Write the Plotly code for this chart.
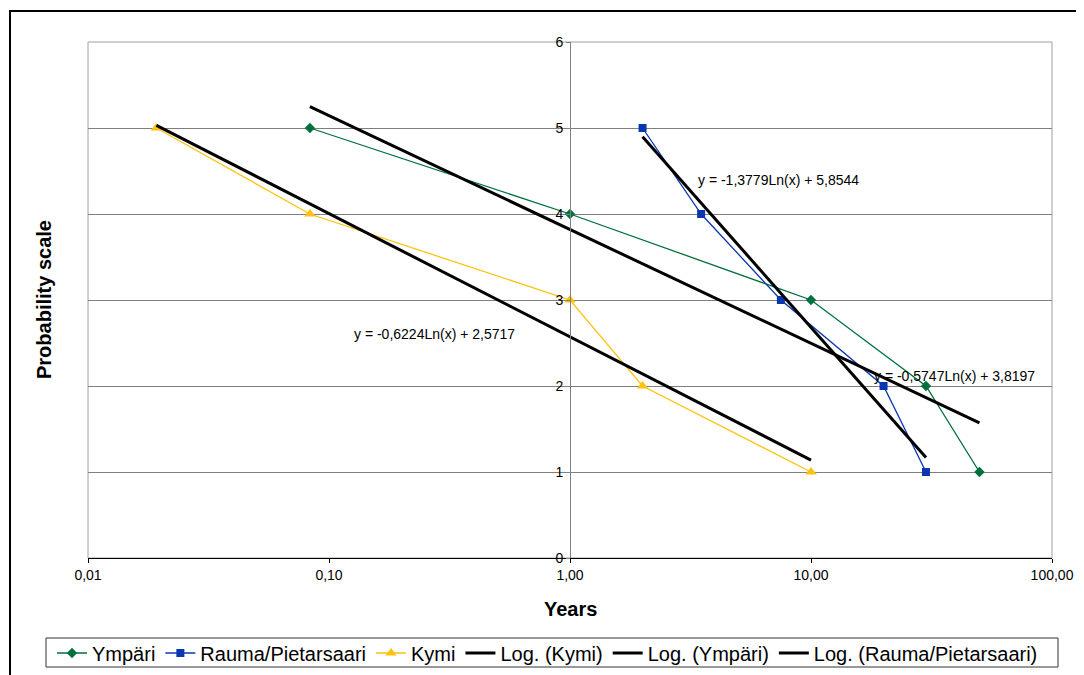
import numpy as np
import plotly.graph_objects as go

# ---------------- data ----------------
ympari_x = [1/12, 1, 10, 30, 50]
ympari_y = [5, 4, 3, 2, 1]

rauma_x = [2, 3.5, 7.5, 20, 30]
rauma_y = [5, 4, 3, 2, 1]

kymi_x = [1/52, 1/12, 1, 2, 10]
kymi_y = [5, 4, 3, 2, 1]

# logarithmic trendline coefficients (y = a*Ln(x) + b), as printed in the chart
kymi_fit = [-0.6224, 2.5717]
ympari_fit = [-0.5747, 3.8197]
rauma_fit = [-1.3779, 5.8544]

kymi_eq = "y = -0,6224Ln(x) + 2,5717"
ympari_eq = "y = -0,5747Ln(x) + 3,8197"
rauma_eq = "y = -1,3779Ln(x) + 5,8544"

x_tickvals = [0.01, 0.1, 1, 10, 100]
x_ticktext = ["0,01", "0,10", "1,00", "10,00", "100,00"]
y_tickvals = [0, 1, 2, 3, 4, 5, 6]

GREEN = "#00703C"
BLUE = "#0A37B0"
YELLOW = "#FFC20E"
FONT = "Liberation Sans, Arial, sans-serif"


def trend(xs, coef):
    xe = np.array([min(xs), max(xs)])
    return xe, coef[0] * np.log(xe) + coef[1]


fig = go.Figure()

fig.add_trace(go.Scatter(x=ympari_x, y=ympari_y, name="Ympäri", mode="lines+markers",
                         line=dict(color=GREEN, width=1.3),
                         marker=dict(symbol="diamond", size=8, color=GREEN)))
fig.add_trace(go.Scatter(x=rauma_x, y=rauma_y, name="Rauma/Pietarsaari", mode="lines+markers",
                         line=dict(color=BLUE, width=1.3),
                         marker=dict(symbol="square", size=8, color=BLUE)))
fig.add_trace(go.Scatter(x=kymi_x, y=kymi_y, name="Kymi", mode="lines+markers",
                         line=dict(color=YELLOW, width=1.3),
                         marker=dict(symbol="triangle-up", size=10, color=YELLOW)))

for name, xs, coef in [("Log. (Kymi)", kymi_x, kymi_fit),
                       ("Log. (Ympäri)", ympari_x, ympari_fit),
                       ("Log. (Rauma/Pietarsaari)", rauma_x, rauma_fit)]:
    tx, ty = trend(xs, coef)
    fig.add_trace(go.Scatter(x=tx, y=ty, name=name, mode="lines",
                             line=dict(color="black", width=3)))

# page body has an 8px margin: work in figure pixels = screen pixels - 8
OFF = 8
W, H = 1084 - OFF, 675 - OFF
L, R, T, B = 88 - OFF, 1052 - OFF, 42 - OFF, 558 - OFF


def px_x(p):  # screen px -> paper
    return (p - OFF - L) / (R - L)


def px_y(p):
    return (B - (p - OFF)) / (B - T)


eq_font = dict(size=14, color="black", family=FONT)
annotations = [
    dict(text=rauma_eq, x=0.523, y=4.395, xref="x", yref="y", xanchor="left",
         yanchor="middle", showarrow=False, font=eq_font),
    dict(text=kymi_eq, x=-0.905, y=2.605, xref="x", yref="y", xanchor="left",
         yanchor="middle", showarrow=False, font=eq_font),
    dict(text=ympari_eq, x=1.253, y=2.116, xref="x", yref="y", xanchor="left",
         yanchor="middle", showarrow=False, font=eq_font),
    dict(text="<b>Probability scale</b>", x=px_x(44), y=px_y(300), xref="paper", yref="paper",
         textangle=-90, showarrow=False, xanchor="center", yanchor="middle",
         font=dict(size=20, color="black", family=FONT)),
    dict(text="<b>Years</b>", x=px_x(570), y=px_y(609), xref="paper", yref="paper",
         showarrow=False, xanchor="center", yanchor="middle",
         font=dict(size=20, color="black", family=FONT)),
]

shapes = [
    # plot-area frame (grey)
    dict(type="rect", xref="paper", yref="paper", x0=0, x1=1, y0=0, y1=1,
         line=dict(color="#A0A0A0", width=1), layer="below"),
    # outer chart border (only left and top edges are inside the picture)
    dict(type="line", xref="paper", yref="paper", x0=px_x(10), x1=px_x(10),
         y0=px_y(690), y1=px_y(10), line=dict(color="black", width=2), layer="below"),
    dict(type="line", xref="paper", yref="paper", x0=px_x(9), x1=px_x(1090),
         y0=px_y(11), y1=px_y(11), line=dict(color="black", width=2), layer="below"),
    # legend box
    dict(type="rect", xref="paper", yref="paper", x0=px_x(46), x1=px_x(1058),
         y0=px_y(667), y1=px_y(638), line=dict(color="#333333", width=1), layer="above"),
]

fig.update_layout(
    width=W, height=H,
    margin=dict(l=L, r=W - R, t=T, b=H - B, autoexpand=False),
    paper_bgcolor="white", plot_bgcolor="white",
    font=dict(family=FONT, color="black"),
    showlegend=True,
    legend=dict(orientation="h", x=px_x(52), y=px_y(653), xanchor="left", yanchor="middle",
                borderwidth=0, bgcolor="rgba(0,0,0,0)",
                font=dict(size=20, family=FONT, color="black"),
                itemwidth=30, tracegroupgap=0),
    xaxis=dict(type="log", range=[-2, 2], tickvals=x_tickvals, ticktext=x_ticktext,
               showgrid=False, zeroline=False, showline=True, linecolor="black", linewidth=1,
               ticks="outside", ticklen=4, tickcolor="black",
               tickfont=dict(size=14, family=FONT, color="black")),
    yaxis=dict(range=[0, 6], tickvals=y_tickvals, anchor="free", position=0.5,
               showgrid=True, gridcolor="#7F7F7F", gridwidth=1, zeroline=False,
               showline=True, linecolor="#808080", linewidth=1,
               ticks="outside", ticklen=4, tickcolor="#808080",
               tickfont=dict(size=14, family=FONT, color="black")),
    annotations=annotations,
    shapes=shapes,
)

fig.write_html("out.html")
